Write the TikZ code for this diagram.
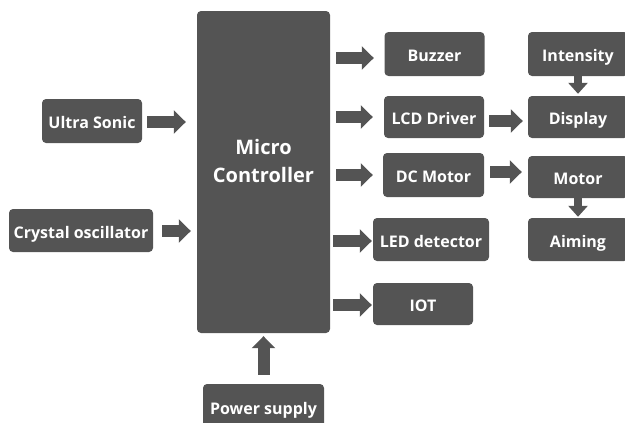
\documentclass[tikz,border=0pt]{standalone}
\usepackage{fontspec}
\setmainfont{Open Sans}
\usetikzlibrary{arrows.meta,calc}
\definecolor{boxgray}{HTML}{545454}
\tikzset{
  blk/.style={fill=boxgray, draw=none, rounded corners=4pt, text=white,
    font=\bfseries\fontsize{16}{18}\selectfont, inner sep=0pt,
    text height=15pt, text depth=0pt},
  bigtxt/.style={text=white, align=center, inner sep=0pt,
    font=\bfseries\fontsize{20}{28}\selectfont},
  bigarr/.style={draw=boxgray, line width=12pt, -{Triangle[width=23pt,length=12pt]}},
  smallarr/.style={draw=boxgray, line width=8.5pt, -{Triangle[width=19pt,length=11pt]}}
}
\begin{document}
\begin{tikzpicture}[x=1pt,y=-1pt]
\useasboundingbox (0,0) rectangle (625,423);
\begin{scope}
\clip (0,0) rectangle (625,423);
\node[blk, minimum width=133pt, minimum height=322pt] (mc) at (263.5,172) {};
\node[bigtxt] (mct) at (263.5,160.5) {Micro\\Controller};
\node[blk, minimum width=100pt, minimum height=44pt] (us) at (92,121) {Ultra Sonic};
\node[blk, minimum width=144pt, minimum height=43pt] (co) at (81,230.5) {Crystal oscillator};
\node[blk, minimum width=121pt, minimum height=46pt] (ps) at (263.5,407) {Power supply};
\node[blk, minimum width=100pt, minimum height=44pt] (bz) at (434.5,54) {Buzzer};
\node[blk, minimum width=100pt, minimum height=42pt] (lcd) at (434,117) {LCD Driver};
\node[blk, minimum width=101pt, minimum height=44pt] (dc) at (433.5,175) {DC Motor};
\node[blk, minimum width=116pt, minimum height=43pt] (led) at (431,239.5) {LED detector};
\node[blk, minimum width=100pt, minimum height=42pt] (iot) at (423,304) {IOT};
\node[blk, minimum width=100pt, minimum height=44pt] (int) at (578,54) {Intensity};
\node[blk, minimum width=100pt, minimum height=42pt] (dsp) at (578,117) {Display};
\node[blk, minimum width=100pt, minimum height=42pt] (mot) at (578,177) {Motor};
\node[blk, minimum width=100pt, minimum height=43pt] (aim) at (578,239.5) {Aiming};
\end{scope}
% inputs
\draw[bigarr] ($(us.east)+(5,1)$) -- ($(mc.west |- us.east)+(-11,1)$);
\draw[bigarr] ($(co.east)+(9,0.5)$) -- ($(mc.west |- co.east)+(-6,0.5)$);
\draw[bigarr] ($(ps.north)+(0,-9)$) -- ($(mc.south)+(0,3)$);
% outputs
\draw[bigarr] ($(mc.east |- bz.west)+(6,4)$) -- ($(bz.west)+(-10.5,4)$);
\draw[bigarr] ($(mc.east |- lcd.west)+(6,0)$) -- ($(lcd.west)+(-11,0)$);
\draw[bigarr] ($(mc.east |- dc.west)+(6,0)$) -- ($(dc.west)+(-10,0)$);
\draw[bigarr] ($(mc.east |- led.west)+(3,1.5)$) -- ($(led.west)+(-1,1.5)$);
\draw[bigarr] ($(mc.east |- iot.west)+(3,1)$) -- ($(iot.west)+(-1,1)$);
\draw[bigarr] ($(lcd.east)+(5,4)$) -- ($(dsp.west |- lcd.east)+(-5,4)$);
\draw[bigarr] ($(dc.east)+(6,-3)$) -- ($(mot.west |- dc.east)+(-6,-3)$);
\draw[smallarr] (int.south) -- ($(dsp.north)+(0,-2)$);
\draw[smallarr] (mot.south) -- ($(aim.north)+(0,-1)$);
\end{tikzpicture}
\end{document}
